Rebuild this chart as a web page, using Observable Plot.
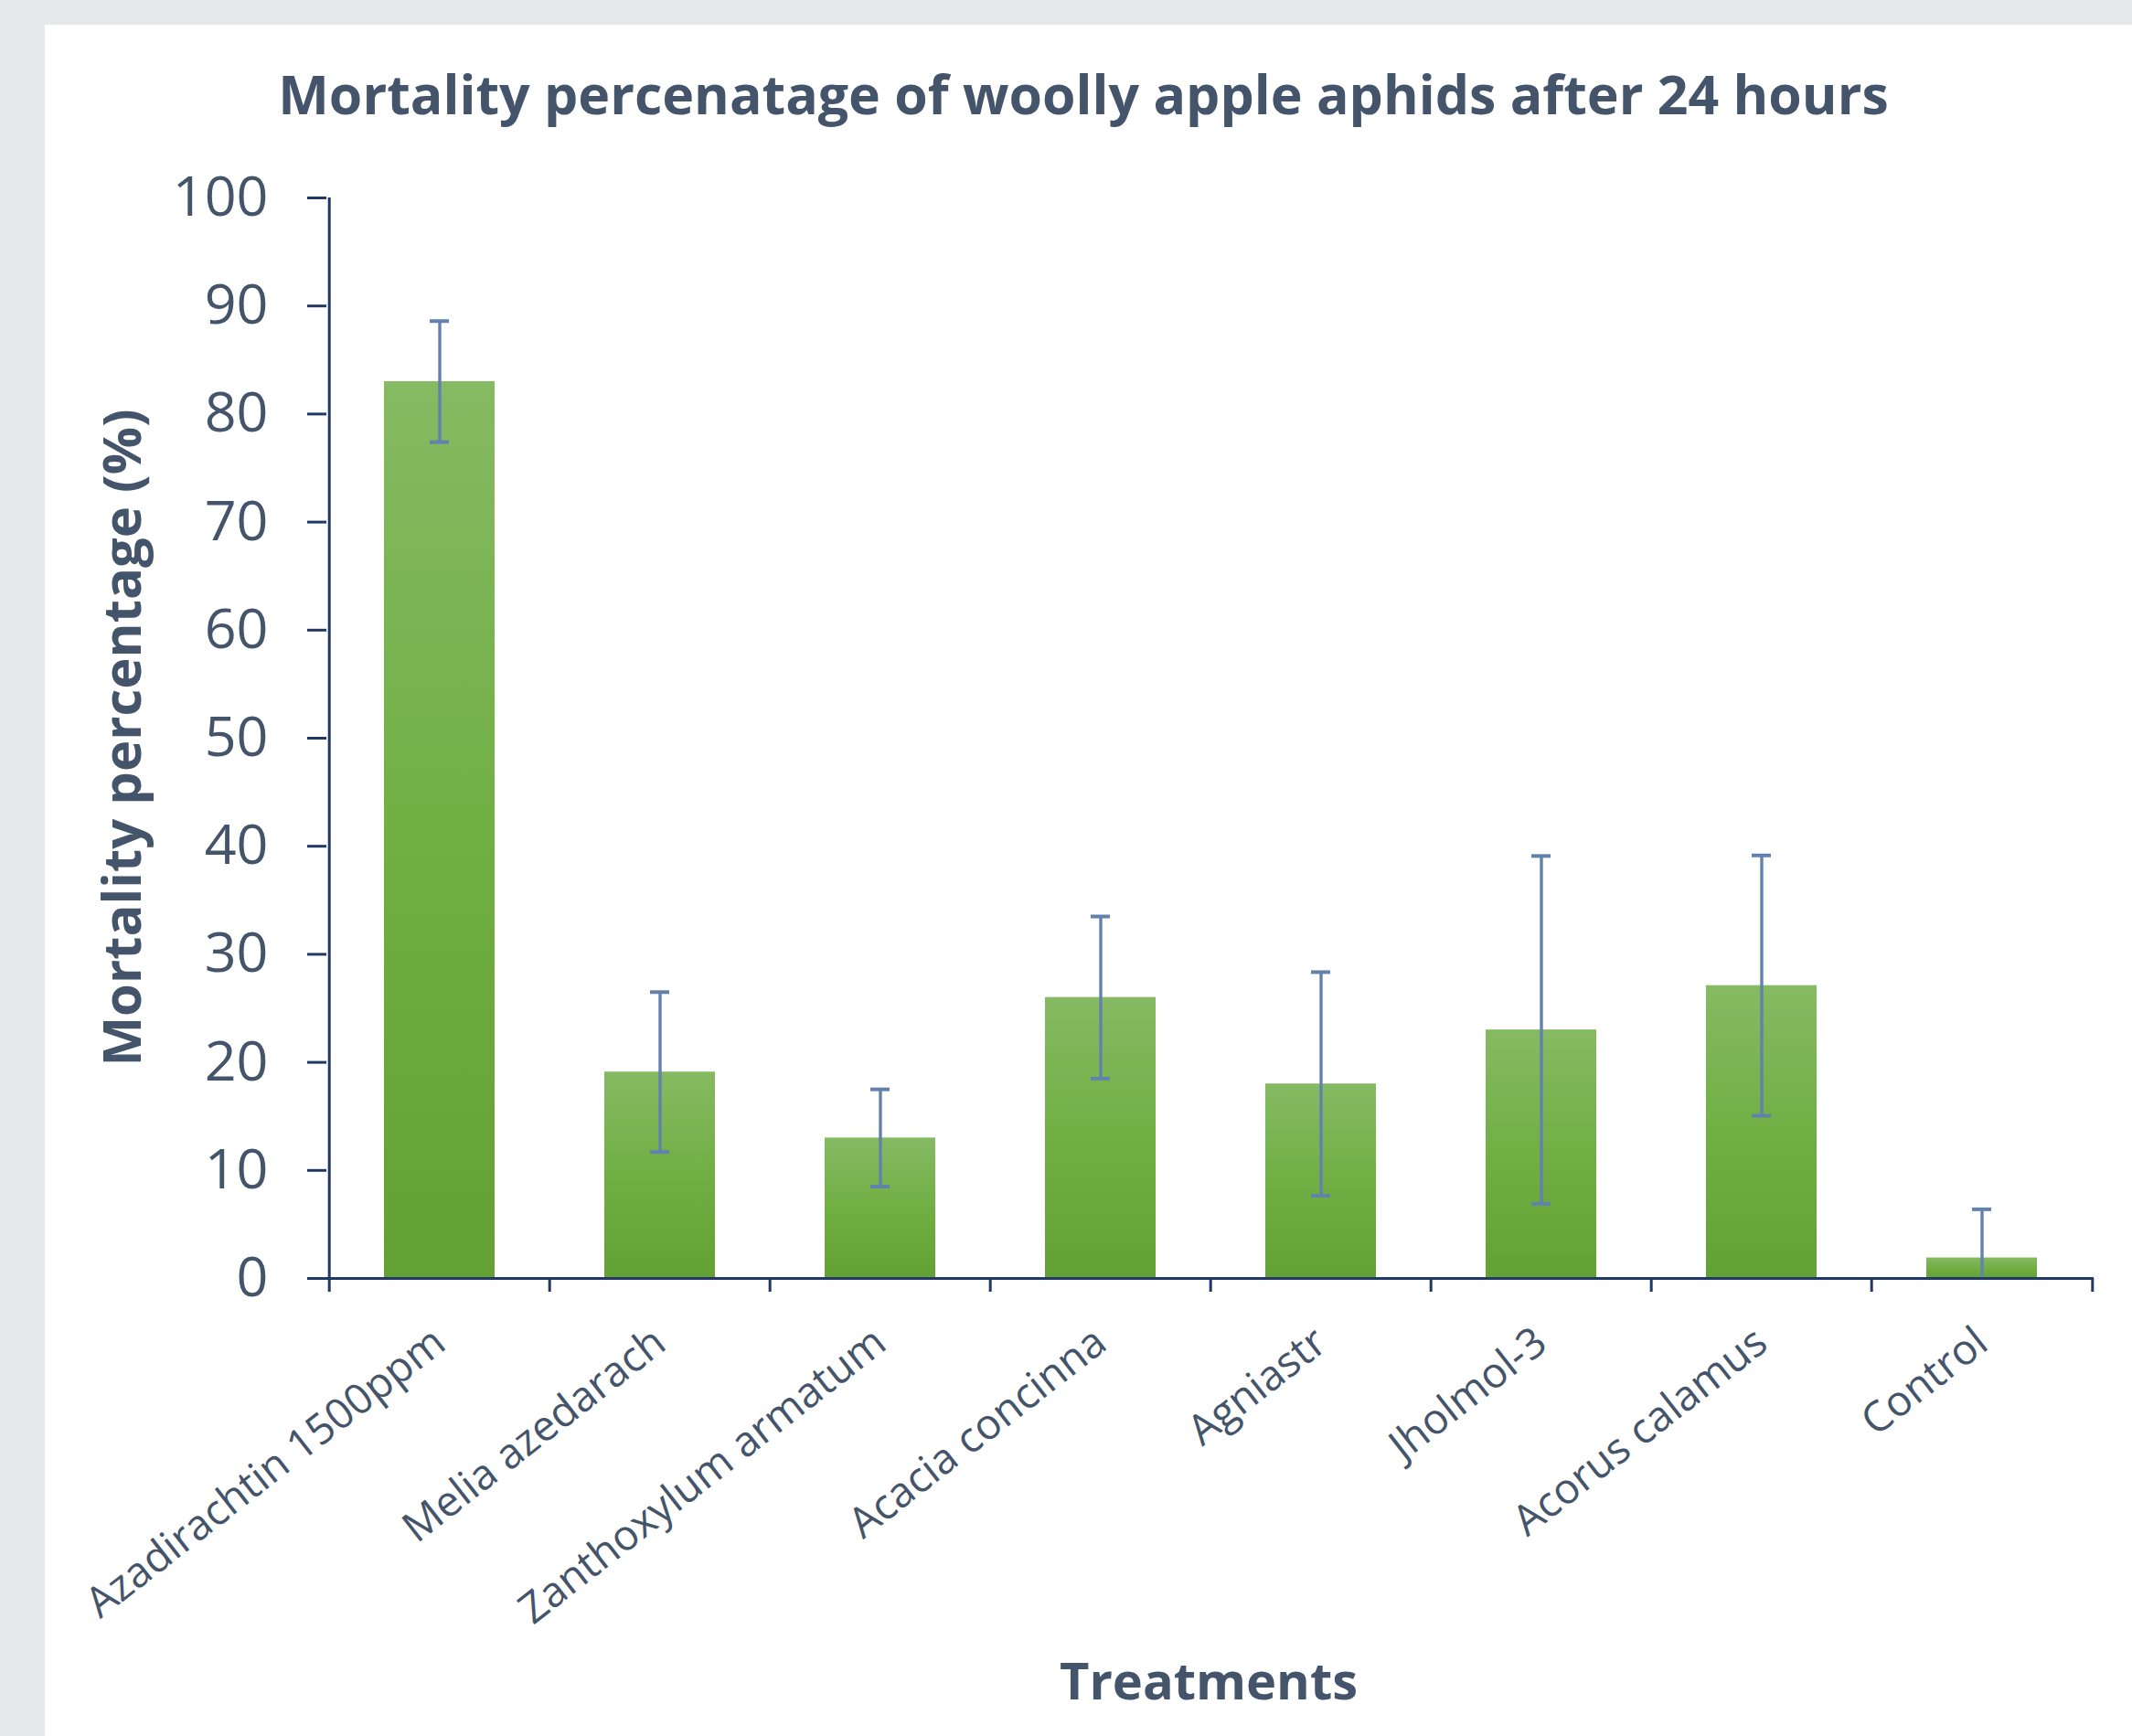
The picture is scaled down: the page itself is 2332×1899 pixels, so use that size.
<!DOCTYPE html>
<html>
<head>
<meta charset="utf-8">
<script src="https://cdn.jsdelivr.net/npm/d3@7"></script>
<script src="https://cdn.jsdelivr.net/npm/@observablehq/plot@0.6"></script>
<style>
  html, body { margin: 0; padding: 0; }
  body { width: 2332px; height: 1899px; background: #e6e8eb; position: relative; overflow: hidden; font-family: "Open Sans", sans-serif; }
  #panel { position: absolute; left: 49px; top: 27px; right: 0; bottom: 0; background: #ffffff; }
  .lbl { position: absolute; white-space: nowrap; color: #44546a; font-weight: 700; line-height: 1; }
  #title { font-size: 59px; left: 1185px; top: 73px; transform: translateX(-50%); }
  #ylabel { font-size: 58px; left: 132px; top: 807px; transform: translate(-50%, -50%) rotate(-90deg); }
  #xlabel { font-size: 56px; left: 1322px; top: 1809px; transform: translateX(-50%); }
  #chart { position: absolute; left: 49px; top: 150px; }
</style>
</head>
<body>
<div id="panel"></div>
<div id="title" class="lbl">Mortality percenatage of woolly apple aphids after 24 hours</div>
<div id="ylabel" class="lbl">Mortality percentage (%)</div>
<div id="xlabel" class="lbl">Treatments</div>
<div id="chart"></div>
<script>
// ---- data ----
const treatments = ["Azadirachtin 1500ppm", "Melia azedarach", "Zanthoxylum armatum", "Acacia concinna", "Agniastr", "Jholmol-3", "Acorus calamus", "Control"];
const mortality = [83, 19.1, 13, 26, 18, 23, 27.1, 1.9];
const stdError = [5.6, 7.4, 4.5, 7.5, 10.35, 16.1, 12.05, 4.5];
const yTicks = [0, 10, 20, 30, 40, 50, 60, 70, 80, 90, 100];

const data = treatments.map((t, i) => ({treatment: t, mortality: mortality[i], err: stdError[i]}));

// ---- layout ----
const W = 2283, H = 1749;
const mL = 308, mR = 42, mT = 66, mB = 501;
const step = (W - mL - mR) / treatments.length;
const navy = "#203864";
const textColor = "#44546a";
const errColor = "#6282ad";

const chart = Plot.plot({
  width: W,
  height: H,
  marginLeft: mL,
  marginRight: mR,
  marginTop: mT,
  marginBottom: mB,
  style: {fontFamily: "'Open Sans', sans-serif", background: "transparent", overflow: "visible"},
  x: {domain: treatments, paddingInner: 0.5, paddingOuter: 0.25, axis: null, label: null},
  y: {domain: [0, 100], axis: null, label: null},
  marks: [
    Plot.barY(data, {x: "treatment", y: "mortality", fill: "url(#barGrad)"}),
    Plot.ruleX(data, {x: "treatment", y1: d => d.mortality - d.err, y2: d => d.mortality + d.err, stroke: errColor, strokeWidth: 3.4, clip: true}),
    Plot.tickY(data, {x: "treatment", y: d => d.mortality + d.err, stroke: errColor, strokeWidth: 4, insetLeft: 50, insetRight: 50, clip: true}),
    Plot.tickY(data, {x: "treatment", y: d => d.mortality - d.err, stroke: errColor, strokeWidth: 4, insetLeft: 50, insetRight: 50, clip: true}),
    Plot.ruleY([0], {stroke: navy, strokeWidth: 3}),
    Plot.ruleX([treatments[0]], {dx: -step / 2, stroke: navy, strokeWidth: 3}),
    Plot.axisY({ticks: yTicks, tickSize: 21, tickPadding: 43, fontSize: 61, stroke: navy, strokeWidth: 3, fill: textColor, label: null}),
    Plot.axisX(treatments, {tickSize: 15, stroke: navy, strokeWidth: 3, fill: "none", dx: -step / 2, label: null}),
    Plot.axisX([treatments[treatments.length - 1]], {tickSize: 15, stroke: navy, strokeWidth: 3, fill: "none", dx: step / 2, label: null}),
    Plot.axisX({tickSize: 0, tickRotate: -38, tickPadding: 64, fontSize: 46, fill: textColor, label: null})
  ]
});

// gradient used by the bars
const ns = "http://www.w3.org/2000/svg";
const defs = document.createElementNS(ns, "defs");
const grad = document.createElementNS(ns, "linearGradient");
grad.setAttribute("id", "barGrad");
grad.setAttribute("x1", "0"); grad.setAttribute("y1", "0");
grad.setAttribute("x2", "0"); grad.setAttribute("y2", "1");
[["0%", "#86ba63"], ["50%", "#71af44"], ["100%", "#63a134"]].forEach(([o, c]) => {
  const s = document.createElementNS(ns, "stop");
  s.setAttribute("offset", o);
  s.setAttribute("stop-color", c);
  grad.appendChild(s);
});
defs.appendChild(grad);
chart.insertBefore(defs, chart.firstChild);

document.getElementById("chart").appendChild(chart);
</script>
</body>
</html>
